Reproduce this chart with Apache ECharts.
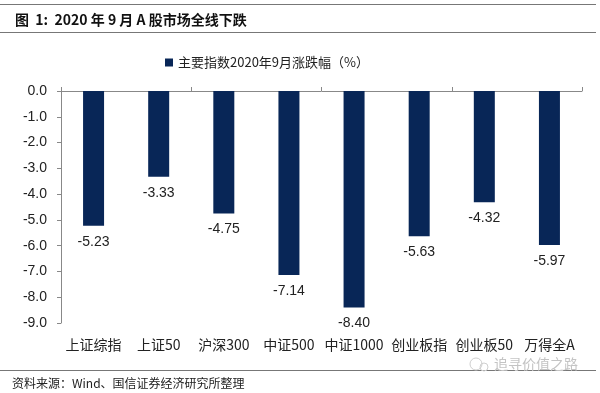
<!DOCTYPE html>
<html><head><meta charset="utf-8">
<script src="https://cdn.jsdelivr.net/npm/echarts@6/dist/echarts.min.js"></script>
<style>html,body{margin:0;padding:0;background:#fff}#c{width:600px;height:393px}</style>
</head><body><div id="c"></div>
<script>
const categories = ['上证综指','上证50','沪深300','中证500','中证1000','创业板指','创业板50','万得全A'];
const values = [-5.23,-3.33,-4.75,-7.14,-8.40,-5.63,-4.32,-5.97];
const seriesName = '主要指数2020年9月涨跌幅（%）';
const titleText = '图  1:  2020 年 9 月 A 股市场全线下跌';
const sourceText = '资料来源：Wind、国信证券经济研究所整理';
const watermark = '追寻价值之路';
const cjk = '"Noto Sans CJK SC", sans-serif';
const latin = '"Liberation Sans", Arial, sans-serif';
const chart = echarts.init(document.getElementById('c'), null, {renderer:'canvas'});
chart.setOption({
  animation:false,
  backgroundColor:'#fff',
  title:{text:titleText,left:10,top:8,textStyle:{fontFamily:cjk,fontSize:14,fontWeight:'bold',color:'#111'}},
  legend:{data:[seriesName],left:160,top:51,icon:'rect',itemWidth:8,itemHeight:8,itemGap:4,
    textStyle:{fontFamily:cjk,fontSize:13,color:'#222'}},
  grid:{left:61,right:18,top:91,bottom:70,containLabel:false},
  xAxis:[
    {type:'category',data:categories,position:'top',axisLine:{lineStyle:{color:'#888',width:1}},
     axisTick:{show:true,length:4,lineStyle:{color:'#888'}},axisLabel:{show:false}},
    {type:'category',data:categories,position:'bottom',axisLine:{show:false},axisTick:{show:false},
     axisLabel:{interval:0,hideOverlap:false,margin:15,fontFamily:cjk,fontSize:14,color:'#222'}}
  ],
  yAxis:{type:'value',min:-9,max:0,interval:1,
    axisLine:{show:true,lineStyle:{color:'#888'}},
    axisTick:{show:true,length:4,lineStyle:{color:'#888'}},
    splitLine:{show:false},
    axisLabel:{margin:14,fontFamily:latin,fontSize:14,color:'#222',formatter:v=>v.toFixed(1)}},
  series:[{name:seriesName,type:'bar',xAxisIndex:0,data:values,barWidth:21,
    itemStyle:{color:'#082657'},
    label:{show:true,position:'bottom',distance:9,fontFamily:latin,fontSize:14,color:'#222',formatter:p=>p.value.toFixed(2)}}],
  graphic:[
    {type:'line',shape:{x1:0,y1:4.5,x2:596,y2:4.5},style:{stroke:'#777',lineWidth:1}},
    {type:'line',shape:{x1:0,y1:32.5,x2:596,y2:32.5},style:{stroke:'#777',lineWidth:1}},
    {type:'line',shape:{x1:0,y1:370.5,x2:596,y2:370.5},style:{stroke:'#777',lineWidth:1}},
    {type:'text',left:12,top:377,style:{text:sourceText,font:'12px "Noto Sans CJK SC"',fill:'#222'}},
    {type:'text',left:494,top:357,style:{text:watermark,font:'14px "Noto Sans CJK SC"',fill:'#c4c4c4'}},
    {type:'circle',shape:{cx:476,cy:364,r:6},style:{fill:'none',stroke:'#cfcfcf',lineWidth:1}},
    {type:'circle',shape:{cx:484,cy:367,r:4},style:{fill:'none',stroke:'#cfcfcf',lineWidth:1}}
  ]
});
</script></body></html>
